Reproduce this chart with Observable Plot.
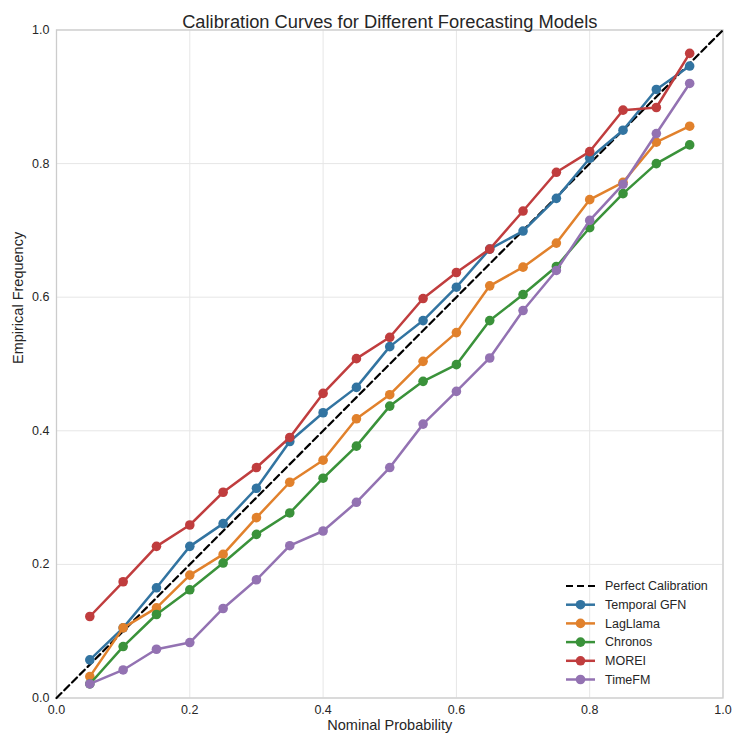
<!DOCTYPE html>
<html>
<head>
<meta charset="utf-8">
<script src="https://cdn.jsdelivr.net/npm/d3@7"></script>
<script src="https://cdn.jsdelivr.net/npm/@observablehq/plot@0.6"></script>
<style>
  html, body { margin: 0; padding: 0; background: #fff; }
  #chart { position: relative; width: 735px; height: 738px; }
  svg { font-family: "Liberation Sans", Arial, sans-serif; }
</style>
</head>
<body>
<div id="chart"></div>
<script>
// ---- Data ----
const title = "Calibration Curves for Different Forecasting Models";
const xLabel = "Nominal Probability";
const yLabel = "Empirical Frequency";
const tickValues = [0, 0.2, 0.4, 0.6, 0.8, 1.0];
const nominal = [0.05, 0.10, 0.15, 0.20, 0.25, 0.30, 0.35, 0.40, 0.45, 0.50, 0.55, 0.60, 0.65, 0.70, 0.75, 0.80, 0.85, 0.90, 0.95];
const perfect = [0, 1];
const seriesNames = ["Temporal GFN", "LagLlama", "Chronos", "MOREI", "TimeFM"];
const temporalGFN = [0.057, 0.105, 0.165, 0.227, 0.261, 0.314, 0.384, 0.427, 0.465, 0.526, 0.565, 0.615, 0.672, 0.699, 0.748, 0.808, 0.850, 0.911, 0.946];
const lagLlama    = [0.032, 0.105, 0.135, 0.184, 0.215, 0.270, 0.323, 0.356, 0.418, 0.454, 0.504, 0.547, 0.617, 0.645, 0.681, 0.746, 0.772, 0.832, 0.856];
const chronos     = [0.021, 0.077, 0.125, 0.162, 0.202, 0.245, 0.277, 0.329, 0.377, 0.437, 0.474, 0.499, 0.565, 0.604, 0.646, 0.704, 0.755, 0.800, 0.828];
const morei       = [0.122, 0.174, 0.227, 0.259, 0.308, 0.345, 0.390, 0.456, 0.508, 0.540, 0.598, 0.637, 0.672, 0.729, 0.787, 0.818, 0.880, 0.884, 0.965];
const timeFM      = [0.021, 0.042, 0.073, 0.083, 0.134, 0.177, 0.228, 0.250, 0.293, 0.345, 0.410, 0.459, 0.509, 0.580, 0.640, 0.715, 0.769, 0.845, 0.920];
const seriesValues = [temporalGFN, lagLlama, chronos, morei, timeFM];
const seriesColors = ["#3274a1", "#e1812c", "#3a923a", "#c03d3e", "#9372b2"];
const perfectLabel = "Perfect Calibration";

// ---- Styles ----
const textColor = "#262626";
const fontSize = 12.5;

const marks = [
  Plot.gridX(tickValues, {stroke: "#e6e6e6", strokeOpacity: 1, strokeWidth: 1}),
  Plot.gridY(tickValues, {stroke: "#e6e6e6", strokeOpacity: 1, strokeWidth: 1}),
  Plot.frame({stroke: "#cccccc", strokeWidth: 1.3}),
  Plot.axisX(tickValues, {tickSize: 0, tickPadding: 7, tickFormat: d3.format(".1f"), label: null, fontSize: fontSize, fill: textColor}),
  Plot.axisY(tickValues, {tickSize: 0, tickPadding: 7, tickFormat: d3.format(".1f"), label: null, fontSize: fontSize, fill: textColor}),
  Plot.line(perfect, {x: d => d, y: d => d, stroke: "#000", strokeWidth: 2.2, strokeDasharray: "7,4"})
];
seriesValues.forEach((vals, s) => {
  marks.push(Plot.line(nominal, {x: d => d, y: (d, i) => vals[i], stroke: seriesColors[s], strokeWidth: 2.5}));
  marks.push(Plot.dot(nominal, {x: d => d, y: (d, i) => vals[i], fill: seriesColors[s], r: 4.8}));
});
marks.push(Plot.text([title], {frameAnchor: "top", dy: -15, fontSize: 18.3, fill: textColor}));
marks.push(Plot.text([xLabel], {frameAnchor: "bottom", dy: 31.5, fontSize: 14.5, fill: textColor}));
marks.push(Plot.text([yLabel], {frameAnchor: "left", dx: -38, rotate: -90, fontSize: 14.5, fill: textColor}));

const svg = Plot.plot({
  width: 735,
  height: 738,
  marginLeft: 56,
  marginRight: 12.5,
  marginTop: 29.5,
  marginBottom: 40.5,
  x: {domain: [0, 1]},
  y: {domain: [0, 1]},
  style: {fontFamily: "'Liberation Sans', Arial, sans-serif", background: "#fff"},
  marks
});
document.getElementById("chart").appendChild(svg);

// ---- Legend (lower right, inside plot) ----
const legend = d3.select(svg).append("g").attr("transform", "translate(566,586)")
  .attr("font-family", "'Liberation Sans', Arial, sans-serif").attr("font-size", fontSize)
  .attr("text-anchor", "start");
const rowH = 18.7;
const entries = [{name: perfectLabel, color: "#000", dashed: true}].concat(
  seriesNames.map((n, i) => ({name: n, color: seriesColors[i], dashed: false})));
entries.forEach((e, i) => {
  const g = legend.append("g").attr("transform", `translate(0,${i * rowH})`);
  g.append("line").attr("x1", 0).attr("x2", 29).attr("y1", 0).attr("y2", 0)
    .attr("stroke", e.color).attr("stroke-width", e.dashed ? 2.2 : 2.5)
    .attr("stroke-dasharray", e.dashed ? "7,4" : null);
  if (!e.dashed) g.append("circle").attr("cx", 14.5).attr("cy", 0).attr("r", 4.8).attr("fill", e.color);
  g.append("text").attr("x", 39).attr("y", 0).attr("dy", "0.35em").attr("text-anchor", "start")
    .attr("fill", textColor).text(e.name);
});
</script>
</body>
</html>
